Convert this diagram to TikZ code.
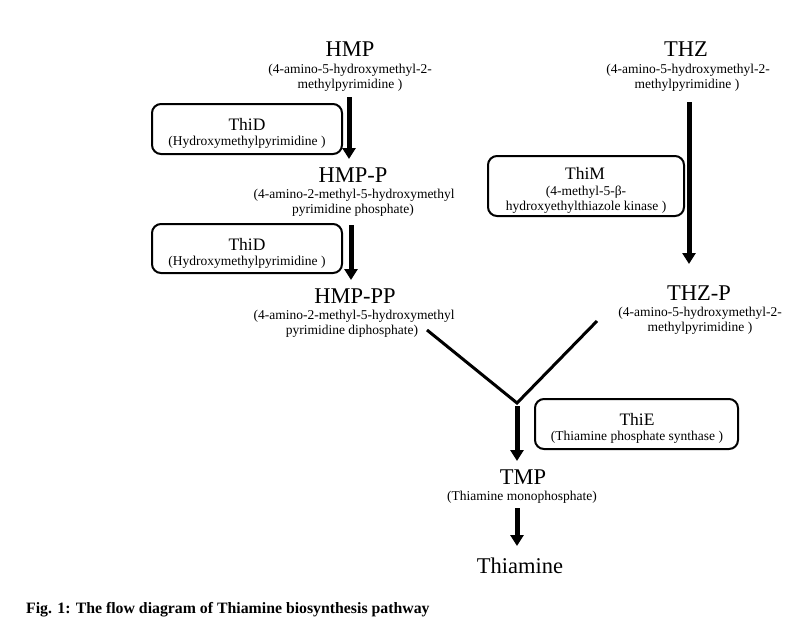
\documentclass[tikz,border=0pt]{standalone}
\usepackage{fontspec}
\setmainfont{Liberation Serif}
\usetikzlibrary{arrows.meta}
\begin{document}
\begin{tikzpicture}[x=1pt,y=-1pt,
 ttl/.style={font=\fontsize{22.5}{26}\selectfont, inner sep=0pt, anchor=base},
 sub/.style={font=\fontsize{13.5}{16}\selectfont, inner sep=0pt, anchor=base},
 enz/.style={font=\fontsize{17.5}{20}\selectfont, inner sep=0pt, anchor=base},
 enzbox/.style={draw, line width=2pt, rounded corners=9pt, inner sep=0pt},
 bigarrow/.style={line width=5pt, -{Triangle[width=13pt,length=11pt]}},
 joinline/.style={line width=3pt}]
\useasboundingbox (0,0) rectangle (802,622);

% HMP column
\node[ttl] (hmp) at (350,56) {HMP};
\node[sub] (hmpa) at (350,73) {(4-amino-5-hydroxymethyl-2-};
\node[sub] (hmpb) at (350,88) {methylpyrimidine )};

\node[enzbox, minimum width=190pt, minimum height=50pt] (box1) at (247,129) {};
\node[enz] (thid1) at (247,130) {ThiD};
\node[sub] (thid1s) at (247,145) {(Hydroxymethylpyrimidine )};

\node[ttl] (hmpp) at (353,182) {HMP-P};
\node[sub] (hmppa) at (354,198) {(4-amino-2-methyl-5-hydroxymethyl};
\node[sub] (hmppb) at (353,213) {pyrimidine phosphate)};

\node[enzbox, minimum width=190pt, minimum height=49pt] (box2) at (247,248.5) {};
\node[enz] (thid2) at (247,250) {ThiD};
\node[sub] (thid2s) at (247,265) {(Hydroxymethylpyrimidine )};

\node[ttl] (hmppp) at (355,303) {HMP-PP};
\node[sub] (hmpppa) at (354,319) {(4-amino-2-methyl-5-hydroxymethyl};
\node[sub] (hmpppb) at (352,334) {pyrimidine diphosphate)};

% THZ column
\node[ttl] (thz) at (686,56) {THZ};
\node[sub] (thza) at (688,73) {(4-amino-5-hydroxymethyl-2-};
\node[sub] (thzb) at (687,88) {methylpyrimidine )};

\node[enzbox, minimum width=196pt, minimum height=60pt] (box3) at (586,186) {};
\node[enz] (thim) at (585,179) {ThiM};
\node[sub] (thima) at (586,195) {(4-methyl-5-β-};
\node[sub] (thimb) at (586,210) {hydroxyethylthiazole kinase )};

\node[ttl] (thzp) at (699,300) {THZ-P};
\node[sub] (thzpa) at (700,316) {(4-amino-5-hydroxymethyl-2-};
\node[sub] (thzpb) at (700,331) {methylpyrimidine )};

% Joined part
\node[enzbox, minimum width=203pt, minimum height=50pt] (box4) at (636.5,424) {};
\node[enz] (thie) at (637,425) {ThiE};
\node[sub] (thies) at (637,440) {(Thiamine phosphate synthase )};

\node[ttl] (tmp) at (523,484) {TMP};
\node[sub] (tmps) at (522,500) {(Thiamine monophosphate)};
\node[ttl] (thiamine) at (520,573) {Thiamine};

\node[font=\bfseries\fontsize{15.8}{18}\selectfont, inner sep=0pt, anchor=base west] (caption) at (26,613) {Fig. 1: The flow diagram of Thiamine biosynthesis pathway};

% connector end points
\coordinate (a1s) at (349,97);
\coordinate (a1e) at (349,159);
\coordinate (a2s) at (351,225);
\coordinate (a2e) at (351,280);
\coordinate (a3s) at (689,102);
\coordinate (a3e) at (689,264);
\coordinate (yl) at (427,330);
\coordinate (yr) at (597,321);
\coordinate (yj) at (517,403);
\coordinate (a4e) at (517,461);
\coordinate (a5s) at (517,508);
\coordinate (a5e) at (517,546);

\draw[bigarrow] (a1s) -- (a1e);
\draw[bigarrow] (a2s) -- (a2e);
\draw[bigarrow] (a3s) -- (a3e);
\draw[joinline] (yl) -- (yj) -- (yr);
\draw[bigarrow] ([yshift=-3pt]yj) -- (a4e);
\draw[bigarrow] (a5s) -- (a5e);
\end{tikzpicture}
\end{document}
